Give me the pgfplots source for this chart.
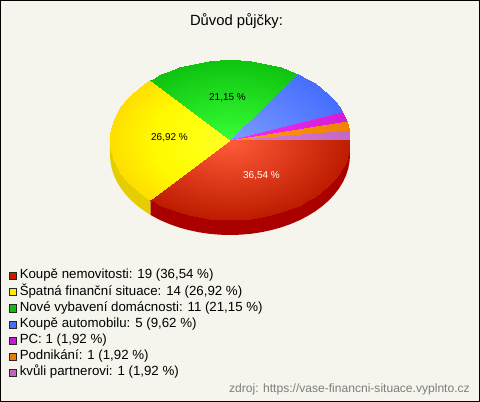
\documentclass[border=0pt]{standalone}
\usepackage{fontspec}
\setmainfont{Liberation Sans}
\usepackage{pgfplots}
\pgfplotsset{compat=1.18}

\definecolor{pagebg}{RGB}{245,245,238}
\definecolor{cRed}{RGB}{200,30,0}
\definecolor{cYellow}{RGB}{255,235,0}
\definecolor{cGreen}{RGB}{15,190,15}
\definecolor{cBlue}{RGB}{70,110,255}
\definecolor{cPink}{RGB}{205,20,215}
\definecolor{cOrange}{RGB}{235,125,0}
\definecolor{cMauve}{RGB}{195,100,190}

\pgfplotsset{
  swatch/.style={legend image code/.code={
    \draw[##1,draw=black!85,line width=0.75pt] (0pt,-2.7pt) rectangle (5.6pt,2.7pt);
    \path (7.5pt,0pt);}},
  slice/.style={patch,shader=interp,forget plot},
}

\begin{document}
\begin{tikzpicture}
\begin{axis}[
  scale only axis,width=360pt,height=301.5pt,
  xmin=0,xmax=480,ymin=0,ymax=402,y dir=reverse,
  hide axis,clip=false,
  point meta min=0,point meta max=1,
  table/row sep=\\,
  legend cell align=left,
  legend style={at={(axis cs:9,268)},anchor=north west,draw=none,fill=none,
    inner sep=0pt,outer sep=0pt,row sep=0pt,font=\fontsize{9.95pt}{12pt}\selectfont,
    nodes={text height=8.13pt,text depth=4pt,inner sep=0pt,outer sep=0pt},
    /tikz/column 2/.style={column sep=0pt}},
]
% frame and background
\addplot[fill=black,draw=none,forget plot] coordinates {(0,0) (480,0) (480,402) (0,402)} --cycle;
\addplot[fill=pagebg,draw=none,forget plot] coordinates {(1,1) (479,1) (479,401) (1,401)} --cycle;

% side walls, the top of them is painted over by the slices
\addplot[fill={rgb,255:red,170;green,0;blue,0},draw=none,forget plot] coordinates {
  (230,140) (350,140) (350,155) (349.54,161.97) (348.18,168.89) (345.91,175.71) (342.76,182.36)
  (338.76,188.81) (333.92,195) (328.30,200.89) (321.92,206.42) (314.85,211.57) (307.13,216.28)
  (298.83,220.53) (290,224.28) (280.71,227.50) (271.04,230.18) (261.06,232.27) (250.84,233.79)
  (240.46,234.70) (230,235) (219.54,234.70) (209.16,233.79) (198.94,232.27) (188.96,230.18)
  (179.29,227.50) (170,224.28) (161.17,220.53) (152.87,216.28) (150.42,214.88) (150.42,199.88)
} --cycle;
\addplot[fill={rgb,255:red,230;green,205;blue,0},draw=none,forget plot] coordinates {
  (230,140) (150.42,199.88) (150.42,214.88) (145.15,211.57) (138.08,206.42) (131.70,200.89)
  (126.08,195) (121.24,188.81) (117.24,182.36) (114.09,175.71) (111.82,168.89) (110.46,161.97)
  (110,155) (110,140)
} --cycle;

% top of the pie, one fan of triangles per slice, c=0 centre, c=1 rim
\addplot[slice,colormap={mRed}{rgb255=(255,92,58) rgb255=(190,28,0)},
  patch table={0 1 2\\0 2 3\\0 3 4\\0 4 5\\0 5 6\\0 6 7\\0 7 8\\0 8 9\\0 9 10\\0 10 11\\0 11 12\\0 12 13\\0 13 14\\0 14 15\\0 15 16\\0 16 17\\0 17 18\\0 18 19\\0 19 20\\0 20 21\\0 21 22\\0 22 23\\0 23 24\\0 24 25\\0 25 26\\0 26 27\\0 27 28\\}]
  table[point meta=\thisrow{c}] {x y c\\
  230 140 0\\ 350 140 1\\ 349.54 146.97 1\\ 348.18 153.89 1\\ 345.91 160.71 1\\ 342.76 167.36 1\\
  338.76 173.81 1\\ 333.92 180 1\\ 328.30 185.89 1\\ 321.92 191.42 1\\ 314.85 196.57 1\\
  307.13 201.28 1\\ 298.83 205.53 1\\ 290 209.28 1\\ 280.71 212.50 1\\ 271.04 215.18 1\\
  261.06 217.27 1\\ 250.84 218.79 1\\ 240.46 219.70 1\\ 230 220 1\\ 219.54 219.70 1\\
  209.16 218.79 1\\ 198.94 217.27 1\\ 188.96 215.18 1\\ 179.29 212.50 1\\ 170 209.28 1\\
  161.17 205.53 1\\ 152.87 201.28 1\\ 150.42 199.88 1\\};

\addplot[slice,colormap={mYellow}{rgb255=(255,255,40) rgb255=(255,255,15) rgb255=(255,248,0) rgb255=(255,222,0)},
  patch table={0 1 2\\0 2 3\\0 3 4\\0 4 5\\0 5 6\\0 6 7\\0 7 8\\0 8 9\\0 9 10\\0 10 11\\0 11 12\\0 12 13\\0 13 14\\0 14 15\\0 15 16\\0 16 17\\0 17 18\\0 18 19\\0 19 20\\0 20 21\\}]
  table[point meta=\thisrow{c}] {x y c\\
  230 140 0\\ 150.42 199.88 1\\ 145.15 196.57 1\\ 138.08 191.42 1\\ 131.70 185.89 1\\ 126.08 180 1\\
  121.24 173.81 1\\ 117.24 167.36 1\\ 114.09 160.71 1\\ 111.82 153.89 1\\ 110.46 146.97 1\\
  110 140 1\\ 110.46 133.03 1\\ 111.82 126.11 1\\ 114.09 119.29 1\\ 117.24 112.64 1\\
  121.24 106.19 1\\ 126.08 100 1\\ 131.70 94.11 1\\ 138.08 88.58 1\\ 145.15 83.43 1\\ 150.42 80.12 1\\};

\addplot[slice,colormap={mGreen}{rgb255=(55,255,55) rgb255=(15,195,15)},
  patch table={0 1 2\\0 2 3\\0 3 4\\0 4 5\\0 5 6\\0 6 7\\0 7 8\\0 8 9\\0 9 10\\0 10 11\\0 11 12\\0 12 13\\0 13 14\\0 14 15\\0 15 16\\0 16 17\\}]
  table[point meta=\thisrow{c}] {x y c\\
  230 140 0\\ 150.42 80.12 1\\ 152.87 78.72 1\\ 161.17 74.47 1\\ 170 70.72 1\\ 179.29 67.50 1\\
  188.96 64.82 1\\ 198.94 62.73 1\\ 209.16 61.21 1\\ 219.54 60.30 1\\ 230 60 1\\ 240.46 60.30 1\\
  250.84 61.21 1\\ 261.06 62.73 1\\ 271.04 64.82 1\\ 280.71 67.50 1\\ 290 70.72 1\\ 298.14 74.15 1\\};

\addplot[slice,colormap={mBlue}{rgb255=(125,155,255) rgb255=(70,110,255)},
  patch table={0 1 2\\0 2 3\\0 3 4\\0 4 5\\0 5 6\\0 6 7\\0 7 8\\}]
  table[point meta=\thisrow{c}] {x y c\\
  230 140 0\\ 298.14 74.15 1\\ 307.13 78.72 1\\ 314.85 83.43 1\\ 321.92 88.58 1\\ 328.30 94.11 1\\
  333.92 100 1\\ 338.76 106.19 1\\ 342.20 111.63 1\\};

\addplot[slice,colormap={mPink}{rgb255=(245,45,245) rgb255=(210,30,215)},
  patch table={0 1 2\\0 2 3\\}]
  table[point meta=\thisrow{c}] {x y c\\
  230 140 0\\ 342.20 111.63 1\\ 345.91 119.29 1\\ 346.51 120.85 1\\};

\addplot[slice,colormap={mOrange}{rgb255=(255,155,30) rgb255=(240,130,0)},
  patch table={0 1 2\\0 2 3\\}]
  table[point meta=\thisrow{c}] {x y c\\
  230 140 0\\ 346.51 120.85 1\\ 348.18 126.11 1\\ 349.13 130.36 1\\};

\addplot[slice,colormap={mMauve}{rgb255=(215,125,215) rgb255=(195,105,195)},
  patch table={0 1 2\\0 2 3\\}]
  table[point meta=\thisrow{c}] {x y c\\
  230 140 0\\ 349.13 130.36 1\\ 349.54 133.03 1\\ 350 140 1\\};

\addlegendimage{swatch,fill=cRed}
\addlegendentry{Koupě nemovitosti: 19 (36,54 \%)}
\addlegendimage{swatch,fill=cYellow}
\addlegendentry{Špatná finanční situace: 14 (26,92 \%)}
\addlegendimage{swatch,fill=cGreen}
\addlegendentry{Nové vybavení domácnosti: 11 (21,15 \%)}
\addlegendimage{swatch,fill=cBlue}
\addlegendentry{Koupě automobilu: 5 (9,62 \%)}
\addlegendimage{swatch,fill=cPink}
\addlegendentry{PC: 1 (1,92 \%)}
\addlegendimage{swatch,fill=cOrange}
\addlegendentry{Podnikání: 1 (1,92 \%)}
\addlegendimage{swatch,fill=cMauve}
\addlegendentry{kvůli partnerovi: 1 (1,92 \%)}

\node[font=\fontsize{11.1pt}{13pt}\selectfont] at (axis cs:236.5,21) {Důvod půjčky:};
\node[font=\fontsize{7.5pt}{9pt}\selectfont,white] at (axis cs:261.5,176) {36,54 \%};
\node[font=\fontsize{7.5pt}{9pt}\selectfont] at (axis cs:169.5,137.5) {26,92 \%};
\node[font=\fontsize{7.5pt}{9pt}\selectfont] at (axis cs:227.5,98) {21,15 \%};
\node[font=\fontsize{9.05pt}{10pt}\selectfont,text={rgb,255:red,125;green,125;blue,125},anchor=east,inner sep=0pt]
  at (axis cs:470,389.5) {zdroj: https://vase-financni-situace.vyplnto.cz};
\end{axis}
\end{tikzpicture}
\end{document}
